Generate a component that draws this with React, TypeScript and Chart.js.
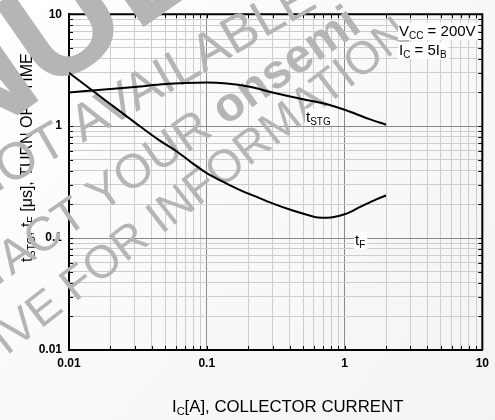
import React, { useEffect, useRef } from 'react';
import { Chart, registerables } from 'chart.js';

Chart.register(...registerables);

// ---- data ----
const X_TSTG = [0.01, 0.02, 0.03, 0.05, 0.07, 0.1, 0.14, 0.2, 0.3, 0.5, 0.7, 1, 1.5, 2];
const Y_TSTG = [2.0, 2.15, 2.24, 2.38, 2.43, 2.45, 2.4, 2.26, 2.0, 1.74, 1.6, 1.4, 1.16, 1.03];

const X_TF = [0.01, 0.02, 0.03, 0.045, 0.06, 0.078, 0.1, 0.137, 0.18, 0.237, 0.31, 0.41, 0.54, 0.64, 0.75, 1, 1.3, 1.7, 2];
const Y_TF = [3.0, 1.57, 1.08, 0.75, 0.6, 0.47, 0.38, 0.31, 0.264, 0.23, 0.201, 0.178, 0.161, 0.153, 0.152, 0.163, 0.19, 0.222, 0.24];

const DECADES = [0.01, 0.1, 1, 10];
const MINOR_STEPS = [1, 2, 3, 4, 5, 6, 7, 8, 9];
const TICK_LABELS = ['0.01', '0.1', '1', '10'];

const FONT = '"Liberation Sans", Arial, Helvetica, sans-serif';

function gridValues(): number[] {
  const v: number[] = [];
  for (let i = 0; i < DECADES.length; i++) {
    if (i === DECADES.length - 1) {
      v.push(DECADES[i]);
      break;
    }
    for (const m of MINOR_STEPS) v.push(parseFloat((DECADES[i] * m).toPrecision(4)));
  }
  return v;
}

function decadeIndex(value: number): number {
  return DECADES.findIndex((d) => Math.abs(d - value) / d < 1e-6);
}

type Seg = { t: string; sub?: boolean; bold?: boolean };

function drawSegs(ctx: CanvasRenderingContext2D, segs: Seg[], x: number, y: number, size: number, subSize: number, subShift: number) {
  let cx = x;
  for (const s of segs) {
    const sz = s.sub ? subSize : size;
    ctx.font = `${s.bold ? 'bold ' : ''}${sz}px ${FONT}`;
    ctx.fillText(s.t, cx, s.sub ? y + subShift : y);
    cx += ctx.measureText(s.t).width;
  }
  return cx - x;
}

function measureSegs(ctx: CanvasRenderingContext2D, segs: Seg[], size: number, subSize: number) {
  let w = 0;
  for (const s of segs) {
    ctx.font = `${s.bold ? 'bold ' : ''}${s.sub ? subSize : size}px ${FONT}`;
    w += ctx.measureText(s.t).width;
  }
  return w;
}

const WATERMARK: { segs: Seg[]; size: number; x: number; y: number; angle: number }[] = [
  { segs: [{ t: 'DISCONTINUED', bold: true }], size: 150, x: -629, y: 568, angle: 35 },
  { segs: [{ t: 'NOT AVAILABLE' }], size: 52, x: -25, y: 205, angle: 30 },
  { segs: [{ t: 'CONTACT YOUR ' }, { t: 'onsemi', bold: true }], size: 48, x: -97, y: 352, angle: 35 },
  { segs: [{ t: 'REPRESENTATIVE FOR INFORMATION' }], size: 46, x: -256, y: 561, angle: 38 },
];

const decor = {
  id: 'decor',
  beforeDraw(chart: any) {
    const { ctx, width, height } = chart;
    ctx.save();
    const g = ctx.createLinearGradient(0, 0, width, height);
    g.addColorStop(0, '#ffffff');
    g.addColorStop(1, '#f3f3f3');
    ctx.fillStyle = g;
    ctx.fillRect(0, 0, width, height);
    ctx.restore();
  },
  beforeDatasetsDraw(chart: any) {
    const { ctx, chartArea: a, scales } = chart;
    ctx.save();
    // top and right frame
    ctx.strokeStyle = '#000';
    ctx.lineWidth = 2;
    ctx.beginPath();
    ctx.moveTo(a.left, a.top);
    ctx.lineTo(a.right, a.top);
    ctx.lineTo(a.right, a.bottom);
    ctx.stroke();
    // small inward ticks
    ctx.lineWidth = 1;
    for (const v of gridValues()) {
      const px = Math.round(scales.x.getPixelForValue(v)) + 0.5;
      const py = Math.round(scales.y.getPixelForValue(v)) + 0.5;
      ctx.beginPath();
      ctx.moveTo(px, a.bottom);
      ctx.lineTo(px, a.bottom - 4);
      ctx.moveTo(px, a.top);
      ctx.lineTo(px, a.top + 4);
      ctx.moveTo(a.left, py);
      ctx.lineTo(a.left + 4, py);
      ctx.moveTo(a.right, py);
      ctx.lineTo(a.right - 4, py);
      ctx.stroke();
    }
    // axis titles
    ctx.fillStyle = '#000';
    ctx.textBaseline = 'alphabetic';
    ctx.textAlign = 'left';
    drawSegs(
      ctx,
      [{ t: 'I' }, { t: 'C', sub: true }, { t: '[A], COLLECTOR CURRENT' }],
      172,
      411.5,
      16.8,
      11,
      3
    );
    ctx.save();
    ctx.translate(32, 262);
    ctx.rotate(-Math.PI / 2);
    drawSegs(
      ctx,
      [
        { t: 't' },
        { t: 'STG', sub: true },
        { t: ', t' },
        { t: 'F', sub: true },
        { t: ' [\u03bcs], TURN OFF TIME' },
      ],
      0,
      0,
      16,
      10.5,
      3
    );
    ctx.restore();
    // watermark
    ctx.fillStyle = '#b5b5b5';
    for (const line of WATERMARK) {
      ctx.save();
      ctx.translate(line.x, line.y);
      ctx.rotate((-line.angle * Math.PI) / 180);
      drawSegs(ctx, line.segs, 0, 0, line.size, line.size, 0);
      ctx.restore();
    }
    ctx.restore();
  },
  afterDatasetsDraw(chart: any) {
    const { ctx } = chart;
    ctx.save();
    ctx.textBaseline = 'alphabetic';
    ctx.textAlign = 'left';
    const labels: { segs: Seg[]; x: number; y: number }[] = [
      { segs: [{ t: 'V' }, { t: 'CC', sub: true }, { t: ' = 200V' }], x: 399, y: 36 },
      { segs: [{ t: 'I' }, { t: 'C', sub: true }, { t: ' = 5I' }, { t: 'B', sub: true }], x: 399, y: 55 },
      { segs: [{ t: 't' }, { t: 'STG', sub: true }], x: 306, y: 121.5 },
      { segs: [{ t: 't' }, { t: 'F', sub: true }], x: 355, y: 245 },
    ];
    for (const l of labels) {
      const w = measureSegs(ctx, l.segs, 15, 10);
      ctx.fillStyle = '#ffffff';
      ctx.fillRect(l.x - 1, l.y - 13, w + 3, 17);
      ctx.fillStyle = '#000';
      drawSegs(ctx, l.segs, l.x, l.y, 15, 10, 3);
    }
    ctx.restore();
  },
};

function axisCommon(pad: number) {
  return {
    type: 'logarithmic' as const,
    min: 0.01,
    max: 10,
    afterBuildTicks: (scale: any) => {
      scale.ticks = gridValues().map((v) => ({ value: v, major: decadeIndex(v) >= 0 }));
    },
    ticks: {
      autoSkip: false,
      maxRotation: 0,
      color: '#000',
      padding: pad,
      font: { family: FONT, size: 12, weight: 'bold' as const },
      callback: (value: any) => {
        const i = decadeIndex(Number(value));
        return i >= 0 ? TICK_LABELS[i] : '';
      },
    },
    grid: {
      drawTicks: false,
      lineWidth: 1,
      color: (c: any) => (c.tick && decadeIndex(c.tick.value) >= 0 ? '#8a8a8a' : '#cdcdcd'),
    },
    border: { display: true, color: '#000', width: 2 },
  };
}

export default function App() {
  const ref = useRef<HTMLCanvasElement>(null);
  useEffect(() => {
    document.body.style.margin = '0';
    const canvas = ref.current!;
    const chart = new Chart(canvas, {
      type: 'line',
      data: {
        datasets: [
          {
            label: 'tSTG',
            data: X_TSTG.map((x, i) => ({ x, y: Y_TSTG[i] })),
            borderColor: '#000',
            borderWidth: 2,
            pointRadius: 0,
            cubicInterpolationMode: 'monotone',
            fill: false,
          },
          {
            label: 'tF',
            data: X_TF.map((x, i) => ({ x, y: Y_TF[i] })),
            borderColor: '#000',
            borderWidth: 2,
            pointRadius: 0,
            cubicInterpolationMode: 'monotone',
            fill: false,
          },
        ],
      },
      options: {
        responsive: false,
        maintainAspectRatio: false,
        animation: false,
        events: [],
        layout: { padding: { top: 10, right: 9, left: 0, bottom: 0 } },
        plugins: { legend: { display: false }, tooltip: { enabled: false } },
        scales: {
          x: { ...axisCommon(6), afterFit: (s: any) => { s.height = 70; } },
          y: { ...axisCommon(7), afterFit: (s: any) => { s.width = 69; } },
        },
      } as any,
      plugins: [decor],
    });
    return () => chart.destroy();
  }, []);
  return <canvas ref={ref} width={495} height={420} style={{ display: 'block', width: 495, height: 420 }} />;
}
